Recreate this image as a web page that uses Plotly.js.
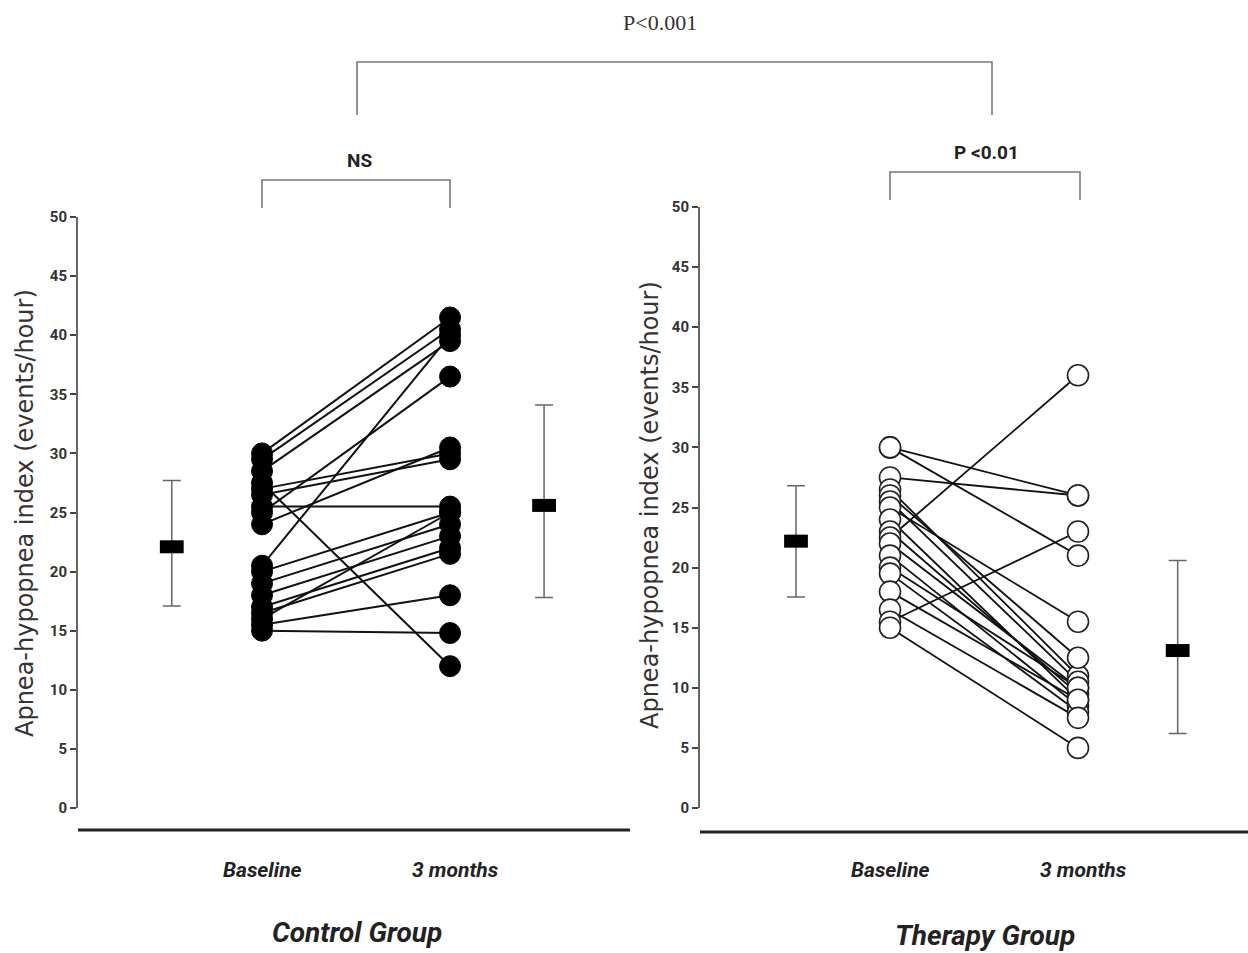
<!DOCTYPE html>
<html>
<head>
<meta charset="utf-8">
<script src="https://cdn.plot.ly/plotly-3.0.1.min.js"></script>
<style>html,body{margin:0;padding:0;background:#fff}#chart{width:1248px;height:953px}</style>
</head>
<body>
<div id="chart"></div>
<script>
// ---- data ----
const timeLabels = ["Baseline", "3 months"];
const groupLabels = ["Control Group", "Therapy Group"];
const yTicks = [0, 5, 10, 15, 20, 25, 30, 35, 40, 45, 50];

const controlBaseline = [30, 29.5, 28.5, 20.5, 25, 27, 26.5, 25.5, 27.5, 20, 19, 18, 16, 16.5, 15.5, 15, 24, 17];
const controlMonth3   = [41.5, 40.5, 39.5, 40, 36.5, 30, 29.5, 25.5, 12, 25, 24, 23, 25, 21.5, 18, 14.8, 30.5, 22];
const therapyBaseline = [30, 30, 27.5, 26.5, 26, 25.5, 25, 24, 23, 22.5, 22, 21, 20, 19.5, 18, 16.5, 15.5, 15];
const therapyMonth3   = [26, 21, 26, 11, 12.5, 10.5, 15.5, 9, 9.5, 36, 10, 8.5, 10, 8, 9, 7.5, 23, 5];

const controlMean  = [22.1, 25.6];
const controlUpper = [27.7, 34.1];
const controlLower = [17.1, 17.8];
const therapyMean  = [22.2, 13.1];
const therapyUpper = [26.8, 20.6];
const therapyLower = [17.55, 6.2];

const pLabels = ["P<0.001", "NS", "P <0.01"];
const yTitle = "Apnea-hypopnea index (events/hour)";

// ---- helpers ----
const W = 1248, H = 953;
const px = x => x / W;
const py = y => 1 - y / H;
const narrow = "Roboto, 'DejaVu Sans Condensed', sans-serif";

function pairLines(b, m, xa, ya, width) {
  const xs = [], ys = [];
  for (let i = 0; i < b.length; i++) { xs.push(1, 2, null); ys.push(b[i], m[i], null); }
  return {x: xs, y: ys, xaxis: xa, yaxis: ya, mode: "lines", type: "scatter",
          line: {color: "#111", width: width}, hoverinfo: "skip", showlegend: false};
}
function pairMarkers(b, m, xa, ya, filled) {
  const xs = [], ys = [];
  for (let i = 0; i < b.length; i++) { xs.push(1, 2); ys.push(b[i], m[i]); }
  return {x: xs, y: ys, xaxis: xa, yaxis: ya, mode: "markers", type: "scatter", showlegend: false,
          marker: filled ? {color: "#000", size: 21, line: {color: "#000", width: 1}}
                         : {color: "#fff", size: 21, line: {color: "#222", width: 1.6}}};
}
function meanTrace(mean, up, lo, xs, xa, ya) {
  return {x: xs, y: mean, xaxis: xa, yaxis: ya, mode: "markers", type: "scatter", showlegend: false,
          marker: {symbol: "line-ew", size: 17, line: {color: "#000", width: 13}},
          error_y: {type: "data", symmetric: false,
                    array: up.map((u, i) => u - mean[i]),
                    arrayminus: lo.map((l, i) => mean[i] - l),
                    color: "#666", thickness: 1.5, width: 9}};
}

const data = [
  pairLines(controlBaseline, controlMonth3, "x", "y", 2),
  pairMarkers(controlBaseline, controlMonth3, "x", "y", true),
  meanTrace(controlMean, controlUpper, controlLower, [0.52, 2.5], "x", "y"),
  pairLines(therapyBaseline, therapyMonth3, "x2", "y2", 1.8),
  pairMarkers(therapyBaseline, therapyMonth3, "x2", "y2", false),
  meanTrace(therapyMean, therapyUpper, therapyLower, [0.5, 2.53], "x2", "y2")
];

const yax = dom => ({domain: dom, range: [0, 50], tickvals: yTicks, ticktext: yTicks.map(String),
  showgrid: false, zeroline: false, showline: true, linecolor: "#666", linewidth: 2,
  ticks: "outside", ticklen: 6, tickwidth: 2, tickcolor: "#444",
  tickfont: {family: narrow, size: 15, color: "#333", weight: "bold"}, fixedrange: true});
const xax = (dom, rng, anchor) => ({domain: dom, range: rng, anchor: anchor, showgrid: false,
  zeroline: false, showline: false, showticklabels: false, ticks: "", fixedrange: true});

const lineStyle = {color: "#777", width: 1.6};
const shapes = [
  {type: "path", xref: "paper", yref: "paper",
   path: `M ${px(357)} ${py(115)} L ${px(357)} ${py(62)} L ${px(992)} ${py(62)} L ${px(992)} ${py(115)}`, line: lineStyle},
  {type: "path", xref: "paper", yref: "paper",
   path: `M ${px(262)} ${py(208)} L ${px(262)} ${py(180)} L ${px(450)} ${py(180)} L ${px(450)} ${py(208)}`, line: lineStyle},
  {type: "path", xref: "paper", yref: "paper",
   path: `M ${px(890)} ${py(200)} L ${px(890)} ${py(172)} L ${px(1080)} ${py(172)} L ${px(1080)} ${py(200)}`, line: lineStyle},
  {type: "line", xref: "paper", yref: "paper", x0: px(78), x1: px(630), y0: py(830), y1: py(830), line: {color: "#222", width: 3}},
  {type: "line", xref: "paper", yref: "paper", x0: px(700), x1: px(1248), y0: py(832), y1: py(832), line: {color: "#222", width: 3}}
];

const ann = (text, x, y, font, extra) => Object.assign({text: text, x: px(x), y: py(y), xref: "paper", yref: "paper",
  showarrow: false, xanchor: "center", yanchor: "middle", font: font}, extra || {});
const bi = {family: narrow, size: 21, color: "#222", weight: "bold", style: "italic"};
const annotations = [
  ann(pLabels[0], 660, 22, {family: "'Liberation Serif', 'Times New Roman', serif", size: 22, color: "#333"}),
  ann(pLabels[1], 359, 160, {family: narrow, size: 19, color: "#222", weight: "bold"}),
  ann(pLabels[2], 986, 152, {family: narrow, size: 19, color: "#222", weight: "bold"}),
  ann(timeLabels[0], 262, 870, bi),
  ann(timeLabels[1], 455, 870, bi),
  ann(timeLabels[0], 890, 870, bi),
  ann(timeLabels[1], 1083, 870, bi),
  ann(groupLabels[0], 357, 932, Object.assign({}, bi, {size: 28})),
  ann(groupLabels[1], 985, 935, Object.assign({}, bi, {size: 28})),
  ann(yTitle, 25, 513, {family: "'DejaVu Sans', sans-serif", size: 24, color: "#333"}, {textangle: -90}),
  ann(yTitle, 650, 505, {family: "'DejaVu Sans', sans-serif", size: 24, color: "#333"}, {textangle: -90})
];

const layout = {
  width: W, height: H, margin: {l: 0, r: 0, t: 0, b: 0},
  paper_bgcolor: "#fff", plot_bgcolor: "#fff", showlegend: false,
  xaxis: xax([px(78), px(630)], [0.0213, 2.957], "y"),
  yaxis: Object.assign(yax([py(808), py(217)]), {anchor: "x"}),
  xaxis2: xax([px(700), 1], [-0.0106, 2.904], "y2"),
  yaxis2: Object.assign(yax([py(808), py(207)]), {anchor: "x2"}),
  shapes: shapes, annotations: annotations
};

Plotly.newPlot("chart", data, layout, {displayModeBar: false, staticPlot: true});
</script>
</body>
</html>
